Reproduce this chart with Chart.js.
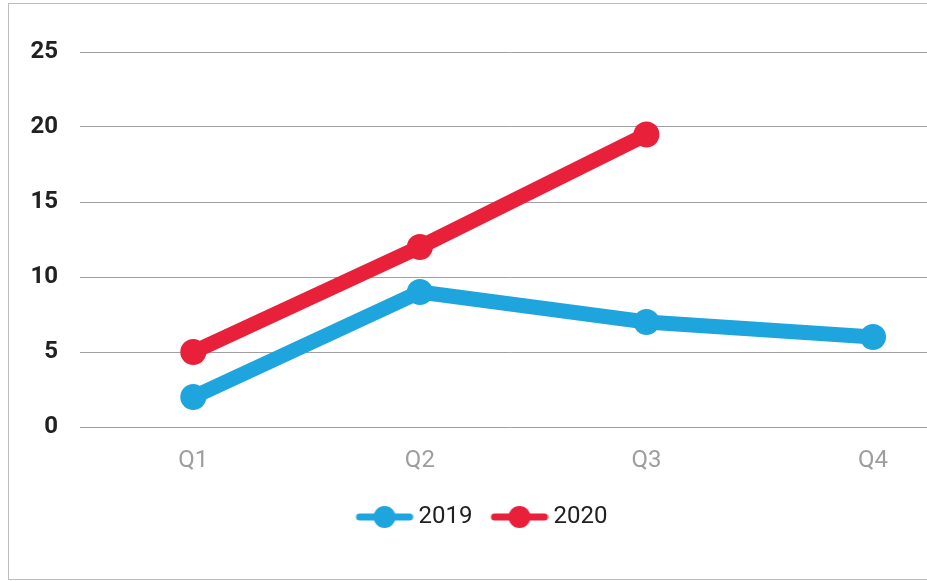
<!DOCTYPE html>
<html>
<head>
<meta charset="utf-8">
<script src="https://cdn.jsdelivr.net/npm/chart.js@4"></script>
<style>
    html, body { margin: 0; padding: 0; background: #fff; overflow: hidden; width: 927px; height: 581px; }
    .frame {
        position: absolute; left: 8px; top: 3px;
        width: 945px; height: 575px;
        border: 1px solid #bdbdbd;
    }
    canvas { display: block; }
</style>
</head>
<body>
<div class="frame"><canvas id="chart" width="945" height="575"></canvas></div>
<script>
// chart data
const quarters = ['Q1', 'Q2', 'Q3', 'Q4'];
const sales2019 = [2, 9, 7, 6];
const sales2020 = [5, 12, 19.5, null];
const yTicks = [0, 5, 10, 15, 20, 25];

const blue = '#1fa5de';
const red = '#e8203a';

// legend marker: line with a dot in the middle
// (7px of empty room on the left so it sits flush with the item start)
function legendMarker(color) {
    const c = document.createElement('canvas');
    c.width = 65; c.height = 24;
    const g = c.getContext('2d');
    g.strokeStyle = color;
    g.lineWidth = 7;
    g.lineCap = 'round';
    g.beginPath(); g.moveTo(11, 12); g.lineTo(61, 12); g.stroke();
    g.fillStyle = color;
    g.beginPath(); g.arc(36, 12, 11, 0, Math.PI * 2); g.fill();
    return c;
}

const series = [
    { label: '2019', data: sales2019, color: blue },
    { label: '2020', data: sales2020, color: red }
];

new Chart(document.getElementById('chart'), {
    type: 'line',
    data: {
        datasets: series.map(s => ({
            label: s.label,
            data: s.data.map((v, i) => ({ x: i, y: v })),
            borderColor: s.color,
            backgroundColor: s.color,
            borderWidth: 15,
            pointRadius: 13,
            pointHoverRadius: 13,
            pointBorderWidth: 0,
            tension: 0,
            fill: false
        }))
    },
    options: {
        responsive: false,
        animation: false,
        layout: { padding: { top: 48, bottom: 40, left: 0, right: 0 } },
        scales: {
            x: {
                type: 'linear',
                min: -0.5,
                max: 3.3,
                afterBuildTicks: scale => { scale.ticks = quarters.map((q, i) => ({ value: i })); },
                afterFit: scale => { scale.height = 60; },
                grid: { display: false, drawTicks: false },
                border: { display: false },
                ticks: {
                    padding: 20,
                    color: '#9e9e9e',
                    font: { family: 'Roboto', size: 24 },
                    callback: v => quarters[v]
                }
            },
            y: {
                min: 0,
                max: 25,
                afterBuildTicks: scale => { scale.ticks = yTicks.map(v => ({ value: v })); },
                afterFit: scale => { scale.width = 71; },
                grid: { color: '#a0a0a0', lineWidth: 1, drawTicks: false },
                border: { display: false },
                ticks: {
                    padding: 22,
                    color: '#212121',
                    font: { family: 'Roboto', size: 24, weight: 'bold' }
                }
            }
        },
        plugins: {
            tooltip: { enabled: false },
            legend: {
                position: 'bottom',
                labels: {
                    usePointStyle: true,
                    pointStyleWidth: 51,
                    padding: 18,
                    color: '#212121',
                    font: { family: 'Roboto', size: 24 },
                    generateLabels: chart => series.map((s, i) => ({
                        text: s.label,
                        pointStyle: legendMarker(s.color),
                        fillStyle: s.color,
                        strokeStyle: s.color,
                        lineWidth: 0,
                        fontColor: '#212121',
                        hidden: false,
                        datasetIndex: i
                    }))
                }
            }
        }
    }
});
</script>
</body>
</html>
